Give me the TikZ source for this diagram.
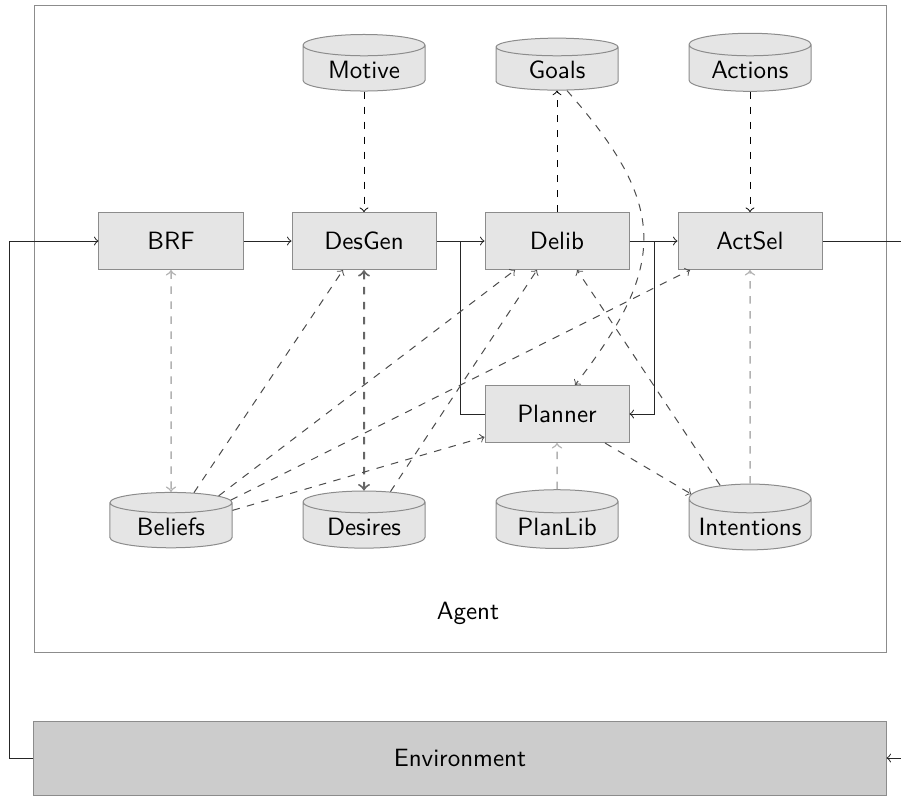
\documentclass[tikz,border=0pt]{standalone}
\usetikzlibrary{shapes.geometric}

\tikzset{
  module/.style={draw=black!45, fill=black!10, minimum width=57.6pt, minimum height=22.8pt, font=\sffamily},
  store/.style={cylinder, shape border rotate=90, shape aspect=0.24, draw=black!45, fill=black!10,
    minimum width=48.8pt, minimum height=10pt, inner ysep=1.8pt, text height=1.6ex, text depth=0.3ex, font=\sffamily},
  flow/.style={->, black!85},
  link/.style={->, dashed, black!70},
  faint/.style={->, dashed, black!30, semithick}
}

\begin{document}
\begin{tikzpicture}[x=0.4pt, y=-0.4pt]
  \clip (0,0) rectangle (901,796);

  % agent frame and environment
  \draw[black!45] (34,5) rectangle (886,652);
  \node[font=\sffamily] (agent) at (468,613) {Agent};
  \node[module, fill=black!20, minimum width=340.8pt, minimum height=29.6pt] (env) at (460,758) {Environment};

  % processing modules
  \node[module] (brf) at (171,241) {BRF};
  \node[module] (desgen) at (364,241) {DesGen};
  \node[module] (delib) at (557,241) {Delib};
  \node[module] (actsel) at (750,241) {ActSel};
  \node[module] (planner) at (557,414) {Planner};

  % stores
  \node[store] (motive) at (364,71) {Motive};
  \node[store] (goals) at (557,71) {Goals};
  \node[store] (actions) at (750,71) {Actions};
  \node[store] (beliefs) at (171,528) {Beliefs};
  \node[store] (desires) at (364,528) {Desires};
  \node[store] (planlib) at (557,528) {PlanLib};
  \node[store] (intentions) at (750,528) {Intentions};

  % main control flow
  \draw[flow] (env.west) -- ++(-24,0) |- (brf.west);
  \draw[flow] (brf) -- (desgen);
  \draw[flow] (desgen) -- (delib);
  \draw[flow] (delib) -- (actsel);
  \draw[flow] (actsel.east) -- ++(100,0) |- (env.east);
  \coordinate (tapA) at (460,241);
  \coordinate (tapB) at (654,241);
  \draw[black!85] (tapA) |- (planner.west);
  \draw[flow] (tapB) |- (planner.east);

  % data access
  \draw[link, black] (motive) -- (desgen);
  \draw[link, black] (actions) -- (actsel);
  \draw[link, black] (delib) -- (goals);
  \draw[link] ([xshift=4pt]goals.south) .. controls (668,205) and (668,265) .. ([xshift=7.2pt]planner.north);
  \draw[faint, <->] (brf) -- (beliefs);
  \draw[link, <->, black!60, thick] (desgen) -- (desires);
  \draw[link] (beliefs.57) -- ([xshift=-8.4pt]desgen.south);
  \draw[link] (beliefs.34) -- ([xshift=-16.8pt]delib.south);
  \draw[link] (beliefs.25) -- ([xshift=-24pt]actsel.south);
  \draw[link] (beliefs.16) -- ([yshift=-9.2pt]planner.west);
  \draw[link] (desires.54) -- ([xshift=-8pt]delib.south);
  \draw[link] (intentions.125) -- ([xshift=8pt]delib.south);
  \draw[link] ([xshift=19.2pt]planner.south) -- (intentions.150);
  \draw[faint] (planlib) -- (planner);
  \draw[faint] (intentions) -- (actsel);
\end{tikzpicture}
\end{document}
